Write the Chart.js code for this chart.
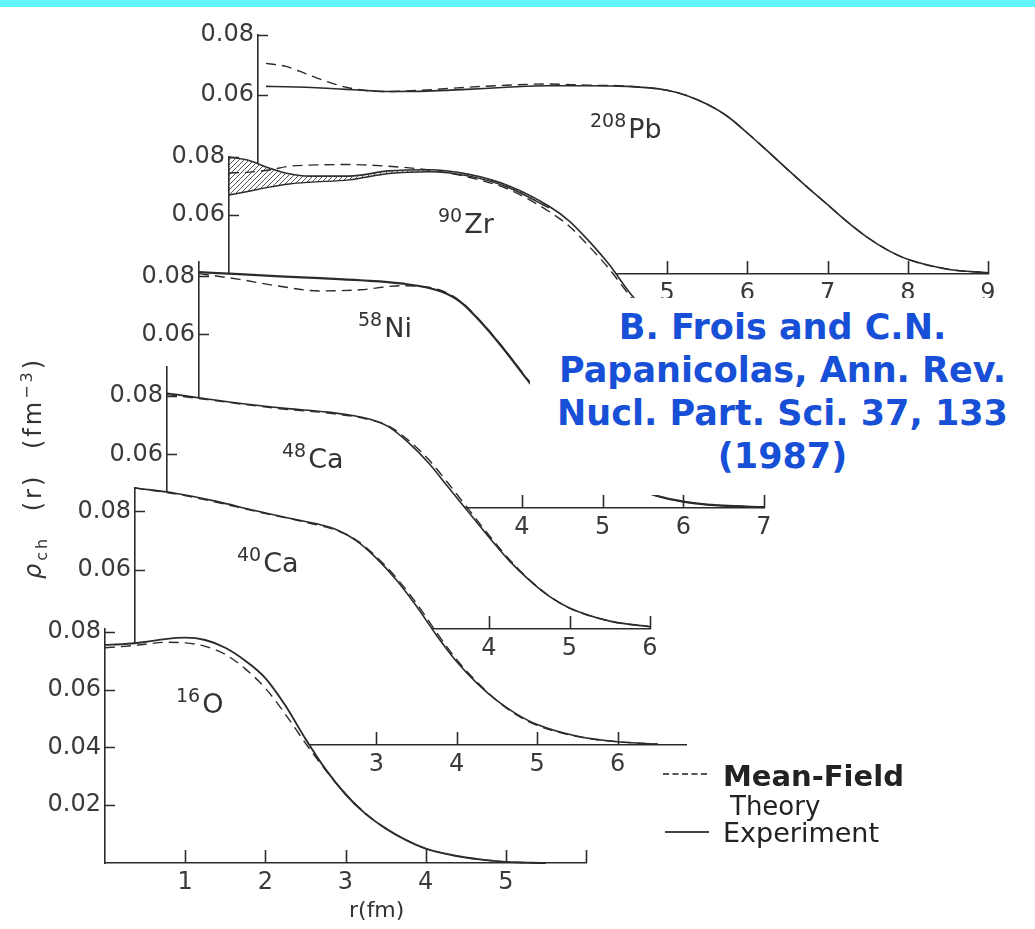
<!DOCTYPE html>
<html lang="en">
<head>
<meta charset="UTF-8">
<title>Charge densities</title>
<style>
  body { margin: 0; background: #fff; }
  #page { position: relative; width: 1035px; height: 929px; overflow: hidden; background: #fff;
          font-family: "DejaVu Sans", sans-serif; color: #333; }
  #topbar { position: absolute; left: 0; top: 0; width: 1035px; height: 7px; background: #63f5fd; }
  canvas.panel { position: absolute; }
  .nuc { position: absolute; font-size: 27px; line-height: 27px; white-space: nowrap; z-index: 10; color: #333; }
  .nuc sup { font-size: 19px; vertical-align: baseline; position: relative; top: -11px; margin-right: 2px; }
  #ytitle { position: absolute; left: -133px; top: 455px; width: 320px; height: 26px; line-height: 26px;
            text-align: center; transform: rotate(-90deg); font-size: 24px; letter-spacing: 3px;
            word-spacing: 14px; white-space: nowrap; z-index: 10; color: #333; }
  #ytitle sub { font-size: 16px; }
  #ytitle sup { font-size: 16px; }
  #xtitle { position: absolute; left: 349px; top: 899px; font-size: 22px; line-height: 22px; z-index: 10; color: #333; }
  #cite { position: absolute; left: 530px; top: 298px; width: 505px; height: 197px; background: #fff; z-index: 20;
          padding-top: 8px; box-sizing: border-box; text-align: center; color: #1750d6;
          font-weight: bold; font-size: 35px; line-height: 43px; }
  .leg { position: absolute; z-index: 10; white-space: nowrap; color: #222; }
  .legline { position: absolute; z-index: 10; width: 44px; height: 0; }
</style>
<script src="https://cdn.jsdelivr.net/npm/chart.js"></script>
</head>
<body>
<div id="page">
  <div id="topbar"></div>

  <div class="nuc" style="left:590px; top:115px;"><sup>208</sup>Pb</div>
  <div class="nuc" style="left:438px; top:210px;"><sup>90</sup>Zr</div>
  <div class="nuc" style="left:358px; top:314px;"><sup>58</sup>Ni</div>
  <div class="nuc" style="left:282px; top:445px;"><sup>48</sup>Ca</div>
  <div class="nuc" style="left:237px; top:549px;"><sup>40</sup>Ca</div>
  <div class="nuc" style="left:176px; top:690px;"><sup>16</sup>O</div>

  <div id="ytitle"><i>ρ</i><sub>ch</sub> (r) (fm<sup>−3</sup>)</div>
  <div id="xtitle">r(fm)</div>

  <div id="cite">B. Frois and C.N.<br>Papanicolas, Ann. Rev.<br>Nucl. Part. Sci. 37, 133<br>(1987)</div>

  <div class="legline" style="left:663px; top:773px; border-top:2px dashed #555;"></div>
  <div class="leg" style="left:723px; top:762px; font-size:29px; line-height:29px; font-weight:bold;">Mean-Field</div>
  <div class="leg" style="left:730px; top:793px; font-size:26px; line-height:26px;">Theory</div>
  <div class="legline" style="left:665px; top:831px; border-top:2px solid #444;"></div>
  <div class="leg" style="left:723px; top:819px; font-size:27px; line-height:27px;">Experiment</div>
</div>

<script>
// ---- data: r in fm, density in fm^-3 ----

// 208Pb
const pbR      = [0, 0.25, 0.5, 0.75, 1, 1.25, 1.5, 2, 2.5, 3, 3.5, 4, 4.5, 5, 5.25, 5.5, 5.75, 6, 6.25, 6.5, 6.75, 7, 7.25, 7.5, 7.75, 8, 8.5, 9];
const pbExp    = [0.0628, 0.0627, 0.0625, 0.0622, 0.0618, 0.0614, 0.0611, 0.0612, 0.0618, 0.0625, 0.0630, 0.0630, 0.0628, 0.0615, 0.0597, 0.0568, 0.0528, 0.0472, 0.0412, 0.0350, 0.0290, 0.0232, 0.0174, 0.0122, 0.0080, 0.0049, 0.0016, 0.0004];
const pbTheory = [0.0705, 0.0695, 0.0670, 0.0645, 0.0625, 0.0614, 0.0611, 0.0616, 0.0625, 0.0632, 0.0636, 0.0632, 0.0629, 0.0615, 0.0597, 0.0568, 0.0528, 0.0472, 0.0412, 0.0350, 0.0290, 0.0232, 0.0174, 0.0122, 0.0080, 0.0049, 0.0016, 0.0004];

// 90Zr (experiment has an error band at small r)
const zrR      = [0, 0.25, 0.5, 0.75, 1, 1.5, 2, 2.5, 3, 3.5, 4, 4.25, 4.5, 4.75, 5, 5.25, 5.5, 6, 6.5, 7];
const zrExp    = [0.0800, 0.0788, 0.0762, 0.0742, 0.0734, 0.0734, 0.0752, 0.0756, 0.0740, 0.0700, 0.0630, 0.0580, 0.0510, 0.0430, 0.0335, 0.0250, 0.0175, 0.0070, 0.0025, 0.0008];
const zrTheory = [0.0745, 0.0748, 0.0755, 0.0768, 0.0772, 0.0774, 0.0768, 0.0755, 0.0730, 0.0688, 0.0612, 0.0562, 0.0492, 0.0415, 0.0325, 0.0245, 0.0172, 0.0070, 0.0025, 0.0008];
const zrBandR   = [0, 0.25, 0.5, 0.75, 1, 1.5, 2, 2.5, 3, 3.5, 4];
const zrBandLow = [0.0669, 0.0682, 0.0696, 0.0707, 0.0713, 0.0721, 0.0743, 0.0749, 0.0734, 0.0694, 0.0625];

// 58Ni
const niR      = [0, 0.5, 1, 1.5, 2, 2.5, 3, 3.25, 3.5, 3.75, 4, 4.25, 4.5, 4.75, 5, 5.5, 6, 6.5, 7];
const niExp    = [0.0815, 0.0808, 0.0800, 0.0794, 0.0787, 0.0776, 0.0748, 0.0710, 0.0640, 0.0558, 0.0468, 0.0378, 0.0292, 0.0218, 0.0155, 0.0060, 0.0022, 0.0008, 0.0003];
const niTheory = [0.0810, 0.0790, 0.0766, 0.0750, 0.0754, 0.0768, 0.0752, 0.0712, 0.0642, 0.0560, 0.0470, 0.0380, 0.0293, 0.0219, 0.0155, 0.0060, 0.0022, 0.0008, 0.0003];

// 48Ca
const ca48R      = [0, 0.25, 0.5, 1, 1.5, 2, 2.5, 2.75, 3, 3.25, 3.5, 3.75, 4, 4.25, 4.5, 4.75, 5, 5.5, 6];
const ca48Exp    = [0.0810, 0.0800, 0.0790, 0.0772, 0.0757, 0.0745, 0.0722, 0.0695, 0.0640, 0.0570, 0.0485, 0.0400, 0.0315, 0.0235, 0.0168, 0.0112, 0.0072, 0.0027, 0.0008];
const ca48Theory = [0.0805, 0.0797, 0.0788, 0.0770, 0.0754, 0.0742, 0.0720, 0.0698, 0.0648, 0.0582, 0.0498, 0.0410, 0.0322, 0.0240, 0.0170, 0.0113, 0.0072, 0.0027, 0.0008];

// 40Ca
const ca40R      = [0, 0.5, 1, 1.5, 2, 2.5, 2.75, 3, 3.25, 3.5, 3.75, 4, 4.25, 4.5, 4.75, 5, 5.5, 6, 6.5];
const ca40Exp    = [0.0880, 0.0862, 0.0835, 0.0802, 0.0772, 0.0738, 0.0700, 0.0640, 0.0565, 0.0475, 0.0375, 0.0285, 0.0212, 0.0152, 0.0105, 0.0070, 0.0030, 0.0011, 0.0003];
const ca40Theory = [0.0880, 0.0860, 0.0832, 0.0800, 0.0770, 0.0735, 0.0702, 0.0645, 0.0572, 0.0485, 0.0385, 0.0292, 0.0216, 0.0152, 0.0102, 0.0067, 0.0029, 0.0011, 0.0003];

// 16O
const oR      = [0, 0.25, 0.5, 0.75, 1, 1.25, 1.5, 1.75, 2, 2.25, 2.5, 2.75, 3, 3.25, 3.5, 3.75, 4, 4.25, 4.5, 4.75, 5, 5.5];
const oExp    = [0.0755, 0.0758, 0.0765, 0.0775, 0.0780, 0.0772, 0.0745, 0.0700, 0.0640, 0.0545, 0.0430, 0.0325, 0.0238, 0.0170, 0.0120, 0.0080, 0.0050, 0.0032, 0.0019, 0.0010, 0.0004, 0.0];
const oTheory = [0.0745, 0.0750, 0.0757, 0.0764, 0.0762, 0.0750, 0.0722, 0.0672, 0.0605, 0.0515, 0.0415, 0.0322, 0.0240, 0.0172, 0.0120, 0.0080, 0.0050, 0.0032, 0.0019, 0.0010, 0.0004, 0.0];

// tick values
const upperTicksY = [0.06, 0.08];
const oTicksY     = [0.02, 0.04, 0.06, 0.08];
const pbTicksX    = [1, 2, 3, 4, 5, 6, 7, 8, 9];
const sevenTicksX = [1, 2, 3, 4, 5, 6, 7];
const sixTicksX   = [1, 2, 3, 4, 5, 6];

// ---- layout ----
const LINE = '#2b2b2b';
const TICKCOL = '#3a3a3a';
const AXW = 80, AXH = 40, PADT = 22, PADR = 22;

// back to front: the lower panels sit in front of the upper ones
const panels = [
  { axisX: 258, baseY: 274, pxFm: 80.2, pxY: 2990, xMin: -0.1, xMax: 9,    yMax: 0.080, r: pbR,   exp: pbExp,   theory: pbTheory,   ticksX: pbTicksX,    ticksY: upperTicksY, labelMax: 9 },
  { axisX: 229, baseY: 389, pxFm: 80,   pxY: 2900, xMin: 0,    xMax: 7,    yMax: 0.080, r: zrR,   exp: zrExp,   theory: zrTheory,   ticksX: sevenTicksX, ticksY: upperTicksY, labelMax: 7, bandR: zrBandR, bandLow: zrBandLow },
  { axisX: 199, baseY: 508, pxFm: 80.7, pxY: 2900, xMin: 0,    xMax: 7,    yMax: 0.085, r: niR,   exp: niExp,   theory: niTheory,   ticksX: sevenTicksX, ticksY: upperTicksY, labelMax: 7, expWidth: 2.2 },
  { axisX: 167, baseY: 629, pxFm: 80.5, pxY: 2912, xMin: 0,    xMax: 6,    yMax: 0.090, r: ca48R, exp: ca48Exp, theory: ca48Theory, ticksX: sixTicksX,   ticksY: upperTicksY, labelMax: 6 },
  { axisX: 135, baseY: 745, pxFm: 80.5, pxY: 2925, xMin: 0,    xMax: 6.85, yMax: 0.088, r: ca40R, exp: ca40Exp, theory: ca40Theory, ticksX: sixTicksX,   ticksY: upperTicksY, labelMax: 6 },
  { axisX: 105, baseY: 863, pxFm: 80.2, pxY: 2890, xMin: 0,    xMax: 6,    yMax: 0.081, r: oR,    exp: oExp,    theory: oTheory,    ticksX: sixTicksX,   ticksY: oTicksY,     labelMax: 5, expWidth: 1.9 }
];

function xy(r, v) {
  return r.map((x, i) => ({ x: x, y: v[i] }));
}

function hatchPattern() {
  const c = document.createElement('canvas');
  c.width = 5; c.height = 5;
  const g = c.getContext('2d');
  g.strokeStyle = '#555';
  g.lineWidth = 1;
  g.beginPath();
  g.moveTo(0, 5); g.lineTo(5, 0);
  g.moveTo(-1, 1); g.lineTo(1, -1);
  g.moveTo(4, 6); g.lineTo(6, 4);
  g.stroke();
  return g.createPattern(c, 'repeat');
}

// tick marks drawn on the inner side of the axes, as in the original
const innerTicks = {
  id: 'innerTicks',
  afterDraw(chart) {
    const { ctx, scales: { x, y } } = chart;
    ctx.save();
    ctx.strokeStyle = LINE;
    ctx.lineWidth = 1.6;
    ctx.beginPath();
    x.ticks.forEach(t => {
      const px = Math.round(x.getPixelForValue(t.value)) + 0.5;
      ctx.moveTo(px, y.bottom);
      ctx.lineTo(px, y.bottom - 13);
    });
    y.ticks.forEach(t => {
      const py = Math.round(y.getPixelForValue(t.value)) + 0.5;
      ctx.moveTo(x.left, py);
      ctx.lineTo(x.left + 10, py);
    });
    ctx.stroke();
    ctx.restore();
  }
};

const page = document.getElementById('page');
const hatch = hatchPattern();

panels.forEach((p, idx) => {
  const plotW = (p.xMax - p.xMin) * p.pxFm;
  const plotH = p.yMax * p.pxY;
  const left = p.axisX - AXW;
  const top = Math.round(p.baseY - plotH - PADT);
  const width = Math.round(AXW + plotW + PADR);
  const height = p.baseY + AXH - top;

  const cv = document.createElement('canvas');
  cv.className = 'panel';
  cv.width = width;
  cv.height = height;
  cv.style.left = left + 'px';
  cv.style.top = top + 'px';
  cv.style.width = width + 'px';
  cv.style.height = height + 'px';
  cv.style.zIndex = idx + 1;
  page.appendChild(cv);

  const datasets = [
    { data: xy(p.r, p.theory), borderColor: LINE, borderWidth: 1.4, borderDash: [10, 6], fill: false, order: 0 }
  ];
  if (p.bandLow) {
    datasets.push({ data: xy(p.bandR, p.bandLow), borderColor: LINE, borderWidth: 1.4, fill: 2, backgroundColor: hatch, order: 1 });
  } else {
    datasets.push({ data: [], order: 1 });
  }
  datasets.push({ data: xy(p.r, p.exp), borderColor: LINE, borderWidth: p.expWidth || 1.6, fill: 'origin', backgroundColor: '#ffffff', order: 2 });

  const tickFont = { family: 'DejaVu Sans', size: 24 };

  new Chart(cv, {
    type: 'line',
    data: { datasets: datasets },
    options: {
      responsive: false,
      maintainAspectRatio: false,
      animation: false,
      events: [],
      layout: { padding: { top: PADT, right: PADR, left: 0, bottom: 0 } },
      plugins: { legend: { display: false }, tooltip: { enabled: false } },
      elements: {
        point: { radius: 0 },
        line: { cubicInterpolationMode: 'monotone', borderCapStyle: 'butt' }
      },
      datasets: { line: { clip: 8 } },
      scales: {
        x: {
          type: 'linear',
          min: p.xMin,
          max: p.xMax,
          bounds: 'data',
          grid: { display: false, drawTicks: false },
          border: { display: true, color: LINE, width: 1.6, z: 1 },
          ticks: {
            autoSkip: false,
            maxRotation: 0,
            padding: 5,
            color: TICKCOL,
            font: tickFont,
            callback: v => (v > p.labelMax ? '' : String(v))
          },
          afterBuildTicks: s => { s.ticks = p.ticksX.map(v => ({ value: v })); },
          afterFit: s => { s.height = AXH; }
        },
        y: {
          type: 'linear',
          min: 0,
          max: p.yMax,
          bounds: 'data',
          grid: { display: false, drawTicks: false },
          border: { display: true, color: LINE, width: 1.6, z: 1 },
          ticks: {
            padding: 4,
            color: TICKCOL,
            font: tickFont,
            callback: v => v.toFixed(2)
          },
          afterBuildTicks: s => { s.ticks = p.ticksY.map(v => ({ value: v })); },
          afterFit: s => { s.width = AXW; }
        }
      }
    },
    plugins: [innerTicks]
  });
});
</script>
</body>
</html>
